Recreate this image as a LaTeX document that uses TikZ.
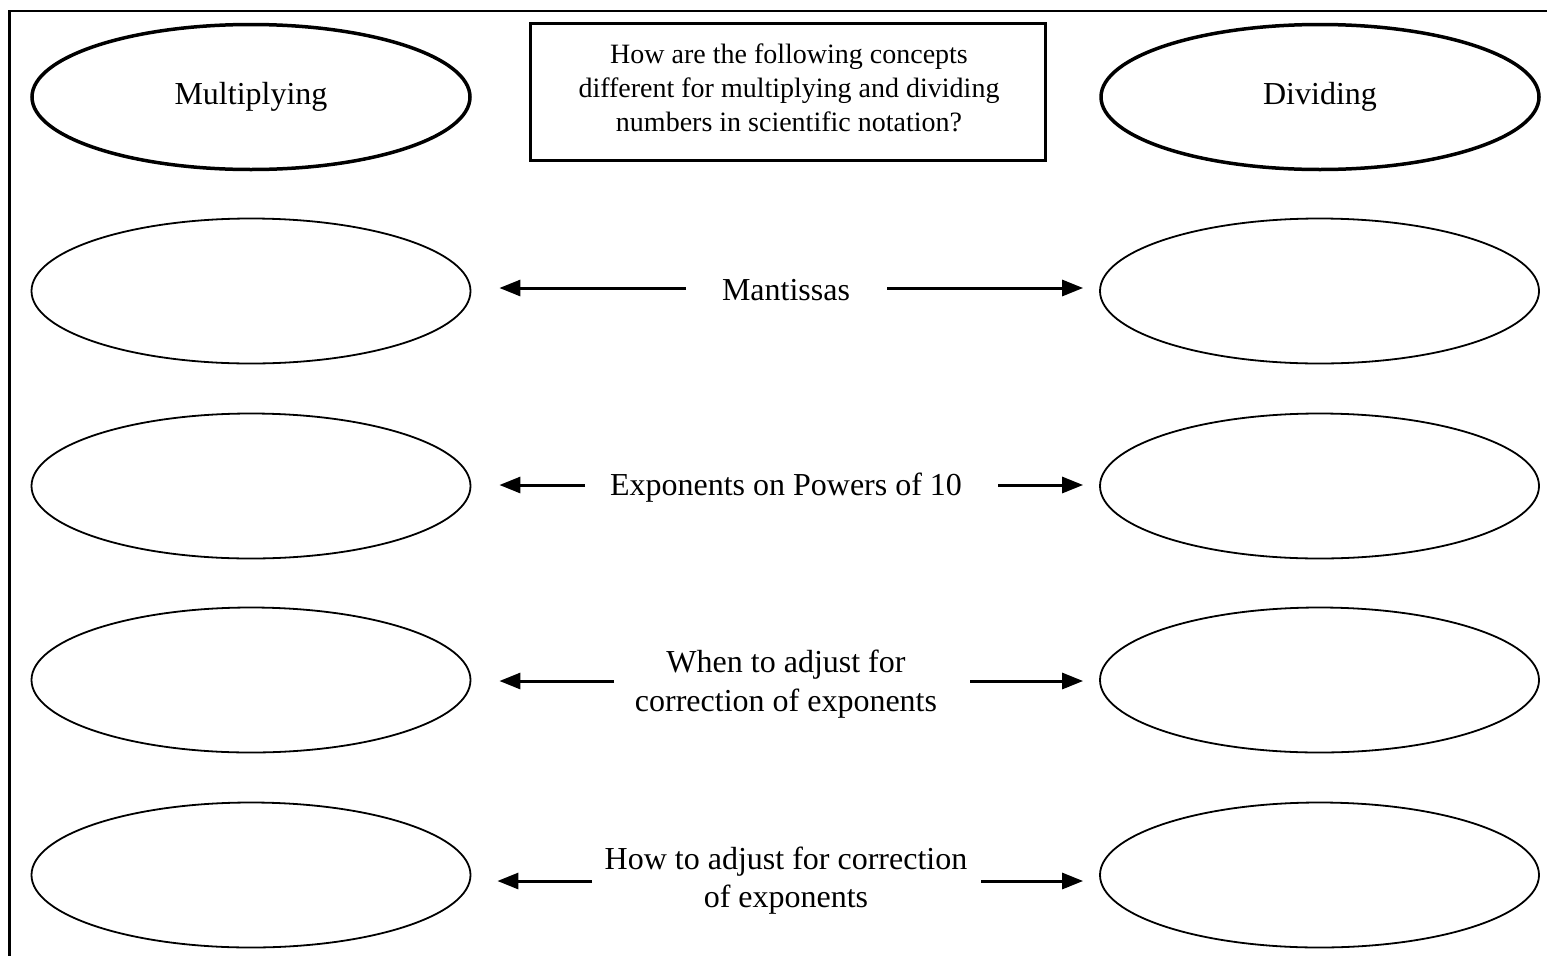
\documentclass[tikz,border=0pt]{standalone}
\usepackage{fontspec}
\setmainfont{Liberation Serif}
\usetikzlibrary{shapes.geometric,arrows.meta}
\tikzset{
  headoval/.style={ellipse, draw, line width=3.5pt, minimum width=438pt, minimum height=145pt, inner sep=0pt,
    font=\fontsize{32}{38}\selectfont},
  blankoval/.style={ellipse, draw, line width=1.8pt, minimum width=439pt, minimum height=145pt, inner sep=0pt},
  qbox/.style={draw, line width=2.2pt, minimum width=515pt, minimum height=137pt, inner sep=0pt},
  qtext/.style={align=center, inner sep=0pt, font=\fontsize{28}{34}\selectfont},
  midlabel/.style={align=center, inner sep=0pt, font=\fontsize{32}{38.5}\selectfont},
  arr/.style={line width=3pt, -{Triangle[length=21pt,width=16pt]}},
  frameline/.style={line width=2.4pt}
}
\begin{document}
\begin{tikzpicture}[x=1pt,y=-1pt]
\useasboundingbox (0,0) rectangle (1547,956);
% frame (top and left edges)
\coordinate (ftl) at (9.5,11);
\coordinate (ftr) at (1547,11);
\coordinate (fbl) at (9.5,956);
\draw[frameline] (ftr) -- (ftl) -- (fbl);

% header row
\node[headoval] (mul) at (251,97) {Multiplying};
\node[headoval] (div) at (1320,97) {Dividing};
\node[qbox] (q) at (788,92) {};
\node[qtext] (qt) at (789,87.5) {How are the following concepts\\different for multiplying and dividing\\numbers in scientific notation?};

% ovals
\foreach \r/\y in {2/291,3/486,4/680,5/875}{
  \node[blankoval] (L\r) at (251,\y) {};
  \node[blankoval] (R\r) at (1319.5,\y) {};
}

% middle labels
\node[midlabel] (m2) at (786,290) {Mantissas};
\node[midlabel] (m3) at (786,488) {Exponents on Powers of 10};
\node[midlabel] (m4) at (786,684) {When to adjust for\\correction of exponents};
\node[midlabel] (m5) at (786,880.5) {How to adjust for correction\\of exponents};

% arrow start points
\coordinate (s2l) at (686,288);  \coordinate (s2r) at (887,288);
\coordinate (s3l) at (585,485);  \coordinate (s3r) at (998,485);
\coordinate (s4l) at (614,681);  \coordinate (s4r) at (970,681);
\coordinate (s5l) at (592,881);  \coordinate (s5r) at (981,881);

\foreach \r in {2,3,4}{
  \draw[arr, shorten >=28pt] (s\r l) -- (s\r l -| L\r.east);
  \draw[arr, shorten >=16pt] (s\r r) -- (s\r r -| R\r.west);
}
\draw[arr, shorten >=26pt] (s5l) -- (s5l -| L5.east);
\draw[arr, shorten >=16pt] (s5r) -- (s5r -| R5.west);
\end{tikzpicture}
\end{document}
